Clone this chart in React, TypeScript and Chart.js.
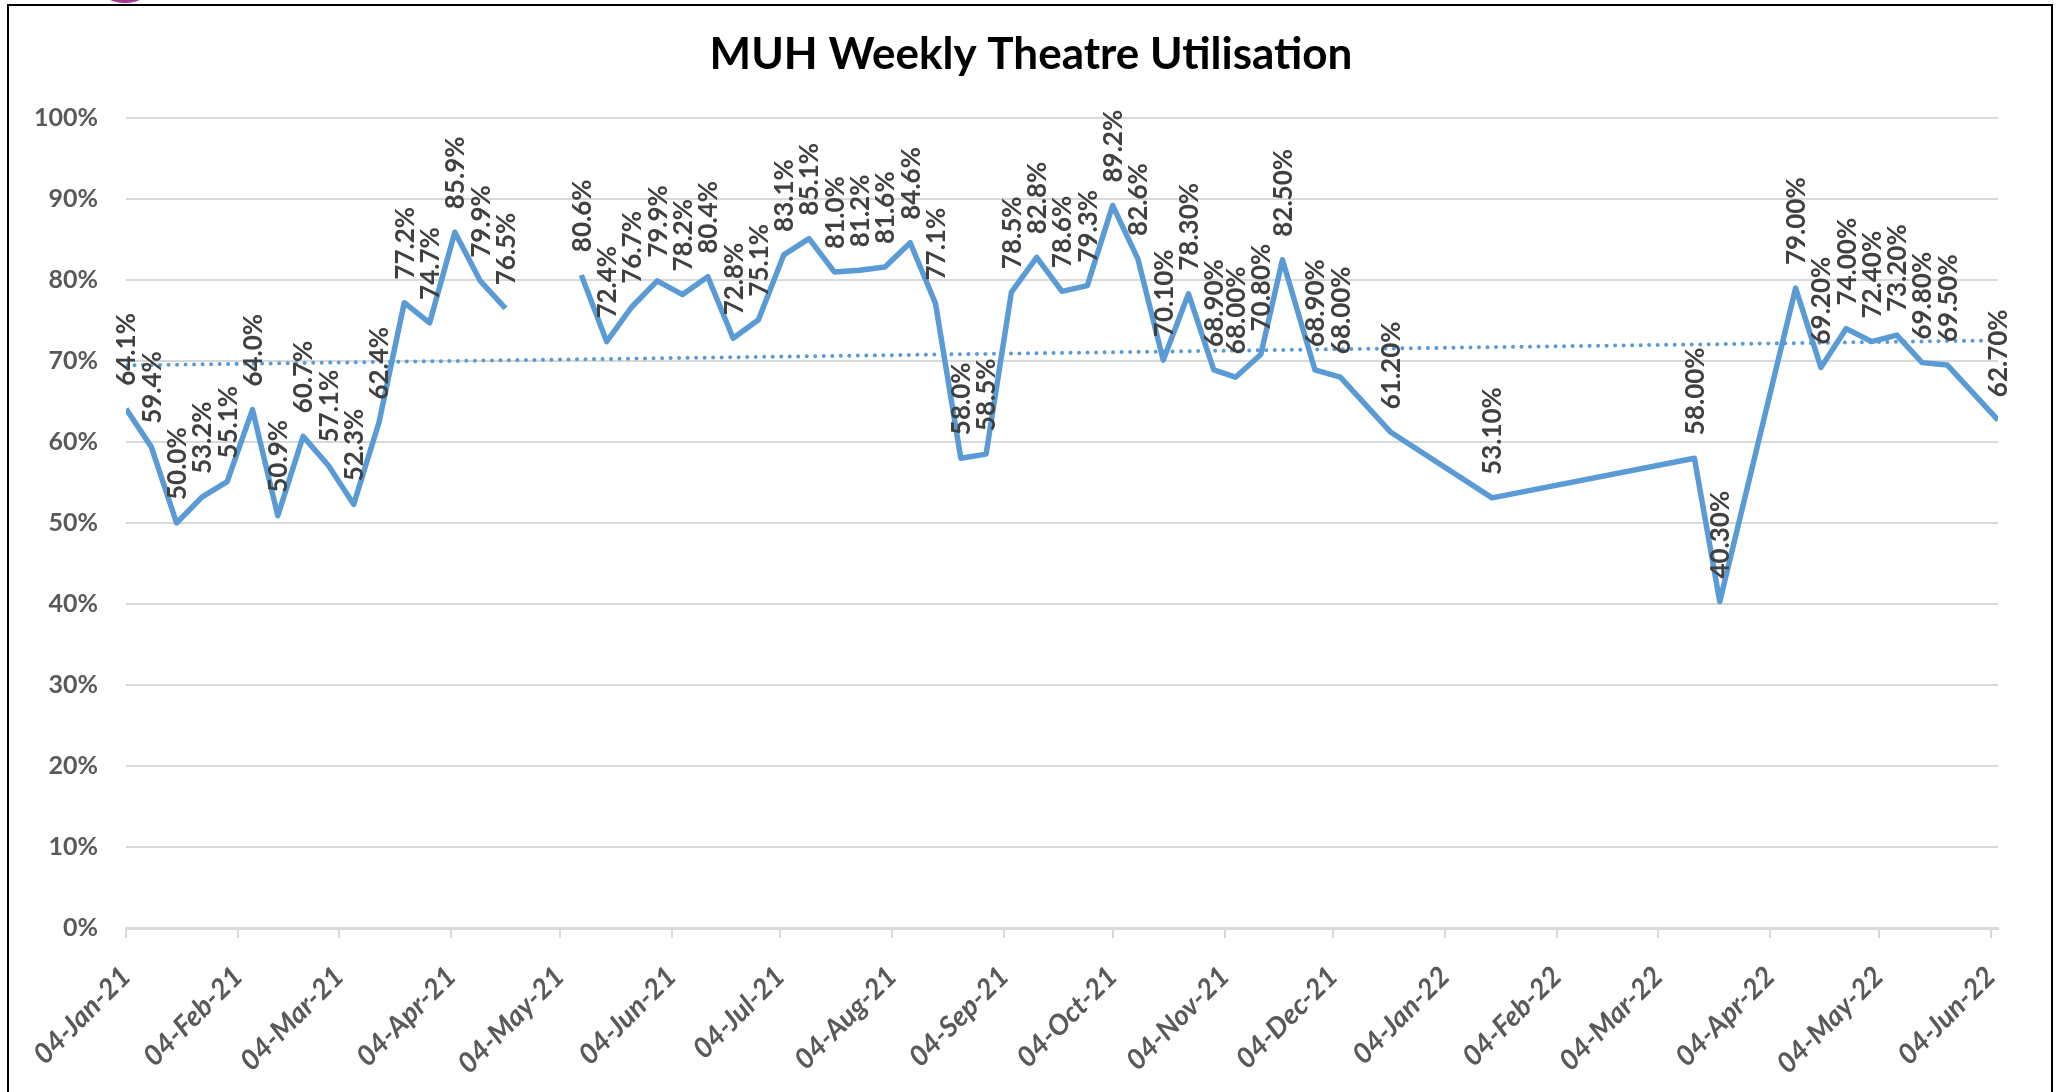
import React, { useEffect, useRef } from "react";
import { Chart, registerables } from "chart.js";

Chart.register(...registerables);

// ---- data ----
const weekDates = [
  "2021-01-04", "2021-01-11", "2021-01-18", "2021-01-25", "2021-02-01", "2021-02-08",
  "2021-02-15", "2021-02-22", "2021-03-01", "2021-03-08", "2021-03-15", "2021-03-22",
  "2021-03-29", "2021-04-05", "2021-04-12", "2021-04-19", "2021-04-26", "2021-05-03",
  "2021-05-10", "2021-05-17", "2021-05-24", "2021-05-31", "2021-06-07", "2021-06-14",
  "2021-06-21", "2021-06-28", "2021-07-05", "2021-07-12", "2021-07-19", "2021-07-26",
  "2021-08-02", "2021-08-09", "2021-08-16", "2021-08-23", "2021-08-30", "2021-09-06",
  "2021-09-13", "2021-09-20", "2021-09-27", "2021-10-04", "2021-10-11", "2021-10-18",
  "2021-10-25", "2021-11-01", "2021-11-07", "2021-11-14", "2021-11-20", "2021-11-29",
  "2021-12-06", "2021-12-20", "2022-01-17", "2022-03-14", "2022-03-21", "2022-04-11",
  "2022-04-18", "2022-04-25", "2022-05-02", "2022-05-09", "2022-05-16", "2022-05-23",
  "2022-06-06",
];

const utilisation: (number | null)[] = [
  64.1, 59.4, 50.0, 53.2, 55.1, 64.0,
  50.9, 60.7, 57.1, 52.3, 62.4, 77.2,
  74.7, 85.9, 79.9, 76.5, null, null,
  80.6, 72.4, 76.7, 79.9, 78.2, 80.4,
  72.8, 75.1, 83.1, 85.1, 81.0, 81.2,
  81.6, 84.6, 77.1, 58.0, 58.5, 78.5,
  82.8, 78.6, 79.3, 89.2, 82.6, 70.1,
  78.3, 68.9, 68.0, 70.8, 82.5, 68.9,
  68.0, 61.2, 53.1, 58.0, 40.3, 79.0,
  69.2, 74.0, 72.4, 73.2, 69.8, 69.5,
  62.7,
];

// labels from this date onward are shown with two decimals
const twoDecimalsFrom = "2021-10-18";

const xTickDates = [
  "2021-01-04", "2021-02-04", "2021-03-04", "2021-04-04", "2021-05-04", "2021-06-04",
  "2021-07-04", "2021-08-04", "2021-09-04", "2021-10-04", "2021-11-04", "2021-12-04",
  "2022-01-04", "2022-02-04", "2022-03-04", "2022-04-04", "2022-05-04", "2022-06-04",
];

const yTickValues = [0, 10, 20, 30, 40, 50, 60, 70, 80, 90, 100];

const axisStart = "2021-01-04";
const axisEnd = "2022-06-06";

const chartTitle = "MUH Weekly Theatre Utilisation";

// ---- helpers ----
const MONTHS = ["Jan", "Feb", "Mar", "Apr", "May", "Jun", "Jul", "Aug", "Sep", "Oct", "Nov", "Dec"];
const DAY_MS = 86400000;
const toUTC = (iso: string) => {
  const [y, m, d] = iso.split("-").map(Number);
  return Date.UTC(y, m - 1, d);
};
const base = toUTC(axisStart);
const dayOf = (iso: string) => Math.round((toUTC(iso) - base) / DAY_MS);
const fmtDay = (day: number) => {
  const dt = new Date(base + day * DAY_MS);
  const dd = String(dt.getUTCDate()).padStart(2, "0");
  const yy = String(dt.getUTCFullYear() % 100).padStart(2, "0");
  return `${dd}-${MONTHS[dt.getUTCMonth()]}-${yy}`;
};

const points = weekDates.map((d, i) => ({ x: dayOf(d), y: utilisation[i] }));
const twoDecDay = dayOf(twoDecimalsFrom);

// linear trendline (least squares) from the data
const valid = points.filter((p) => p.y != null) as { x: number; y: number }[];
const n = valid.length;
const sx = valid.reduce((a, p) => a + p.x, 0);
const sy = valid.reduce((a, p) => a + p.y, 0);
const sxx = valid.reduce((a, p) => a + p.x * p.x, 0);
const sxy = valid.reduce((a, p) => a + p.x * p.y, 0);
const slope = (n * sxy - sx * sy) / (n * sxx - sx * sx);
const intercept = (sy - slope * sx) / n;
const xMin = dayOf(axisStart);
const xMax = dayOf(axisEnd);
const trend = [
  { x: xMin, y: intercept + slope * xMin },
  { x: xMax, y: intercept + slope * xMax },
];

const LINE_BLUE = "#5b9bd5";
const GRID = "#d9d9d9";
const AXIS_TEXT = "#595959";
const LABEL_TEXT = "#404040";

const titlePlugin = {
  id: "fixedTitle",
  afterDraw(chart: any) {
    const ctx = chart.ctx;
    ctx.save();
    ctx.font = "bold 44px Lato";
    ctx.fillStyle = "#000";
    ctx.textAlign = "center";
    ctx.textBaseline = "middle";
    ctx.fillText(chartTitle, 1031, 55);
    ctx.restore();
  },
};

const pointLabelPlugin = {
  id: "pointLabels",
  afterDatasetsDraw(chart: any) {
    const meta = chart.getDatasetMeta(1);
    const ctx = chart.ctx;
    ctx.save();
    ctx.font = "bold 26px Lato";
    ctx.fillStyle = LABEL_TEXT;
    ctx.textAlign = "left";
    ctx.textBaseline = "middle";
    meta.data.forEach((el: any, i: number) => {
      const v = utilisation[i];
      if (v == null) return;
      const dec = points[i].x >= twoDecDay ? 2 : 1;
      const txt = `${v.toFixed(dec)}%`;
      ctx.save();
      ctx.translate(el.x + 1, el.y - 23);
      ctx.rotate(-Math.PI / 2);
      ctx.fillText(txt, 0, 0);
      ctx.restore();
    });
    ctx.restore();
  },
};

export default function App() {
  const ref = useRef<HTMLCanvasElement>(null);

  useEffect(() => {
    if (!ref.current) return;
    const chart = new Chart(ref.current, {
      type: "line",
      data: {
        datasets: [
          {
            label: "Trend",
            data: trend,
            borderColor: LINE_BLUE,
            borderWidth: 4,
            borderDash: [0.01, 8.5],
            borderCapStyle: "round",
            pointRadius: 0,
            fill: false,
            tension: 0,
          },
          {
            label: "Utilisation",
            data: points,
            borderColor: LINE_BLUE,
            borderWidth: 5.5,
            borderJoinStyle: "round",
            pointRadius: 0,
            fill: false,
            tension: 0,
            spanGaps: false,
          },
        ],
      },
      options: {
        responsive: false,
        animation: false,
        devicePixelRatio: 1,
        layout: { padding: { left: 0, right: 58, top: 118, bottom: 0 } },
        plugins: {
          legend: { display: false },
          tooltip: { enabled: false },
          title: { display: false },
        },
        scales: {
          x: {
            type: "linear",
            min: xMin,
            max: xMax,
            afterBuildTicks: (scale: any) => {
              scale.ticks = xTickDates.map((d) => ({ value: dayOf(d) }));
            },
            afterFit: (scale: any) => {
              scale.height = 164;
            },
            grid: {
              display: true,
              drawOnChartArea: false,
              drawTicks: true,
              tickLength: 10,
              color: GRID,
              lineWidth: 2,
            },
            border: { display: true, color: GRID, width: 3 },
            ticks: {
              autoSkip: false,
              minRotation: 45,
              maxRotation: 45,
              padding: 22,
              color: AXIS_TEXT,
              font: { family: "Lato", size: 28, weight: "bold", style: "italic" },
              callback: (v: any) => fmtDay(Number(v)),
            },
          },
          y: {
            min: 0,
            max: 100,
            afterBuildTicks: (scale: any) => {
              scale.ticks = yTickValues.map((v) => ({ value: v }));
            },
            afterFit: (scale: any) => {
              scale.width = 126;
            },
            grid: {
              color: GRID,
              lineWidth: 2,
              drawTicks: false,
            },
            border: { display: false },
            ticks: {
              padding: 28,
              color: AXIS_TEXT,
              font: { family: "Lato", size: 25, weight: "bold" },
              callback: (v: any) => `${v}%`,
            },
          },
        },
      },
      plugins: [pointLabelPlugin, titlePlugin],
    } as any);
    return () => chart.destroy();
  }, []);

  return (
    <div
      style={{
        position: "absolute",
        left: 0,
        top: 0,
        width: 2056,
        height: 1092,
        overflow: "hidden",
        background: "#fff",
      }}
    >
      <div
        style={{
          position: "absolute",
          left: 100,
          top: -28,
          width: 50,
          height: 31,
          borderRadius: "50%",
          background: "#a2378f",
        }}
      />
      <div
        style={{
          position: "absolute",
          left: 7,
          top: 4,
          width: 2046,
          height: 1200,
          border: "2px solid #000",
          boxSizing: "border-box",
        }}
      />
      <canvas
        ref={ref}
        width={2056}
        height={1092}
        style={{ position: "absolute", left: 0, top: 0, width: 2056, height: 1092 }}
      />
    </div>
  );
}
